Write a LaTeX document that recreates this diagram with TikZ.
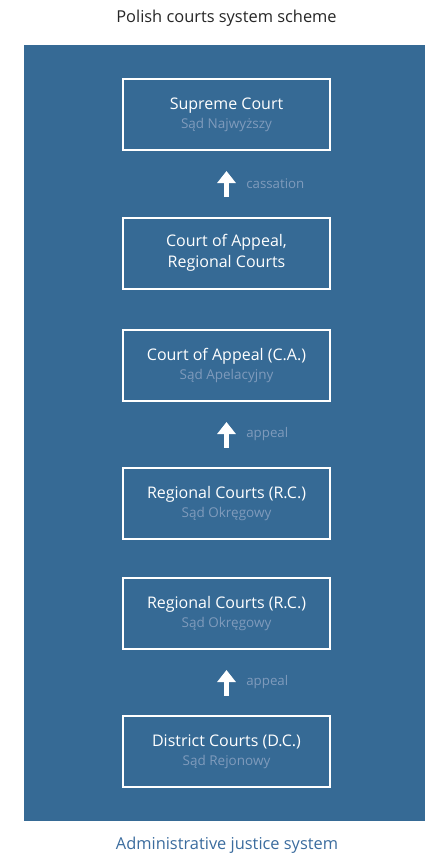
\documentclass[tikz,border=0pt]{standalone}
\usepackage{fontspec}
\setmainfont{Open Sans}
\usetikzlibrary{arrows.meta}
\definecolor{panelblue}{HTML}{366A95}
\definecolor{subgrey}{HTML}{7F9BBC}
\definecolor{captionblue}{HTML}{3B6C9E}
% Polish name under the court name
\newcommand{\polname}[1]{{\fontsize{13.5}{19}\selectfont\color{subgrey}#1}}

\begin{document}
\begin{tikzpicture}[x=1pt, y=-1pt,
    court/.style={draw=white, line width=2pt, minimum width=207pt, minimum height=71pt,
                  align=center, text=white, font=\fontsize{16}{19}\selectfont},
    uparrow/.style={draw=white, line width=5pt, -{Triangle[width=18pt,length=12pt]},
                    shorten <=19.5pt, shorten >=20pt},
    hint/.style={midway, right, xshift=14pt, text=subgrey, font=\fontsize{13.3}{15}\selectfont}]
    \useasboundingbox (0,0) rectangle (425,855);

    % The panel
    \fill [panelblue] (24,45) rectangle (425,821);

    % Headings
    \node [font=\fontsize{16.4}{19}\selectfont, text=black!85] (title) at (226.5,18) {Polish courts system scheme};
    \node [font=\fontsize{16.4}{19}\selectfont, text=captionblue] (caption) at (227,845) {Administrative justice system};

    % The courts
    \node [court] (sn) at (226.5,114.5) {Supreme Court\\\polname{Sąd Najwyższy}};
    \node [court] (carc) at (226.5,253) {Court of Appeal,\\[2pt]Regional Courts};
    \node [court] (ca) at (226.5,365.5) {Court of Appeal (C.A.)\\\polname{Sąd Apelacyjny}};
    \node [court] (rc) at (226.5,503.5) {Regional Courts (R.C.)\\\polname{Sąd Okręgowy}};
    \node [court] (rc2) at (226.5,613.5) {Regional Courts (R.C.)\\\polname{Sąd Okręgowy}};
    \node [court] (dc) at (226.5,751.5) {District Courts (D.C.)\\\polname{Sąd Rejonowy}};

    % Ways up
    \draw [uparrow] (carc) -- node [hint] (cass) {cassation} (sn);
    \draw [uparrow] (rc) -- node [hint] (app1) {appeal} (ca);
    \draw [uparrow] (dc) -- node [hint] (app2) {appeal} (rc2);
\end{tikzpicture}
\end{document}
